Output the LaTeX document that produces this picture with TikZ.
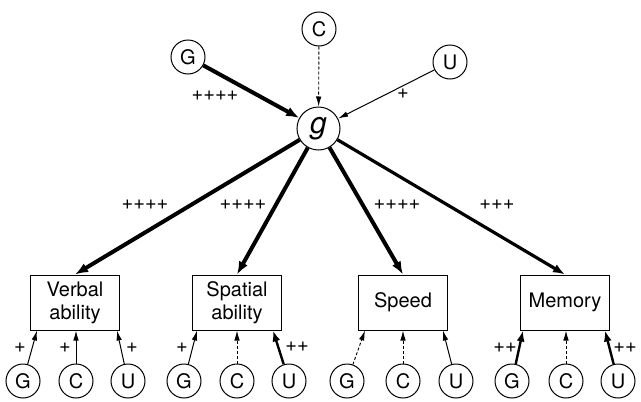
\documentclass[tikz,border=0pt]{standalone}
\usepackage{fontspec}
\setmainfont{TeX Gyre Heros}
\usetikzlibrary{arrows.meta,calc}

\begin{document}
\begin{tikzpicture}[x=1pt,y=-1pt,
  every node/.style={font=\fontsize{20}{23}\selectfont},
  latent/.style={circle, draw, line width=1pt, minimum size=34pt, inner sep=0pt},
  gfac/.style={circle, draw, line width=1pt, minimum size=43pt, inner sep=0pt,
    font=\fontsize{30}{32}\selectfont\itshape},
  abox/.style={draw, line width=1pt, minimum width=89pt, minimum height=55pt,
    align=center, inner sep=0pt},
  lbl/.style={inner sep=0pt},
  thin arr/.style={line width=1pt, -{Latex[length=10pt,width=5.5pt]}},
  dash arr/.style={line width=0.9pt, dash pattern=on 3pt off 2pt, -{Latex[length=10pt,width=5.5pt]}},
  mid arr/.style={line width=2.4pt, -{Latex[length=11pt,width=8pt]}},
  big arr/.style={line width=3.2pt, -{Latex[length=12pt,width=9pt]}},
  heavy arr/.style={line width=4pt, -{Latex[length=13pt,width=10pt]}},
]
\useasboundingbox (0,0) rectangle (641,402);

% general factor and its sources
\node[gfac] (g) at (318.5,128.5) {g};
\node[latent] (G0) at (188,57) {G};
\node[latent] (C0) at (319,29) {C};
\node[latent] (U0) at (450,62) {U};

\draw[heavy arr] (G0) -- (g);
\draw[dash arr] (C0) -- (g);
\draw[thin arr] (U0) -- (g);
\node[lbl] at (215,96) {++++};
\node[lbl] at (403,94) {+};

% specific abilities
\node[abox] (vb) at (75,302.5) {Verbal\\ability};
\node[abox] (sp) at (237,302.5) {Spatial\\ability};
\node[abox] (sd) at (403,302.5) {Speed};
\node[abox] (mm) at (565,302.5) {Memory};

\draw[heavy arr] (g) -- (vb.north);
\draw[heavy arr] (g) -- (sp.north);
\draw[heavy arr] (g) -- (sd.north);
\draw[big arr] (g) -- (mm.north);
\node[lbl] at (145,205) {++++};
\node[lbl] at (243,205) {++++};
\node[lbl] at (397,205) {++++};
\node[lbl] at (497,205) {+++};

% sources of each ability
\node[latent] (vG) at (23,381) {G};
\node[latent] (vC) at (76,381) {C};
\node[latent] (vU) at (128,381) {U};
\node[latent] (sG) at (184,381) {G};
\node[latent] (sC) at (237,381) {C};
\node[latent] (sU) at (289,381) {U};
\node[latent] (dG) at (347,381) {G};
\node[latent] (dC) at (403,381) {C};
\node[latent] (dU) at (456,381) {U};
\node[latent] (mG) at (512,381) {G};
\node[latent] (mC) at (566,381) {C};
\node[latent] (mU) at (618,381) {U};

\draw[thin arr] (vG) -- ([xshift=-38pt]vb.south);
\draw[thin arr] (vC) -- ([xshift=1pt]vb.south);
\draw[thin arr] (vU) -- ([xshift=42pt]vb.south);
\node[lbl] at (20,348) {+};
\node[lbl] at (65,348) {+};
\node[lbl] at (132,348) {+};

\draw[thin arr] (sG) -- ([xshift=-40pt]sp.south);
\draw[dash arr] (sC) -- (sp.south);
\draw[mid arr] (sU) -- ([xshift=36pt]sp.south);
\node[lbl] at (182,348) {+};
\node[lbl] at (297,347) {++};

\draw[dash arr] (dG) -- ([xshift=-38pt]sd.south);
\draw[dash arr] (dC) -- (sd.south);
\draw[thin arr] (dU) -- ([xshift=40pt]sd.south);

\draw[mid arr] (mG) -- ([xshift=-42pt]mm.south);
\draw[dash arr] (mC) -- ([xshift=1pt]mm.south);
\draw[mid arr] (mU) -- ([xshift=40pt]mm.south);
\node[lbl] at (505,348) {++};
\node[lbl] at (625,348) {++};
\end{tikzpicture}
\end{document}
